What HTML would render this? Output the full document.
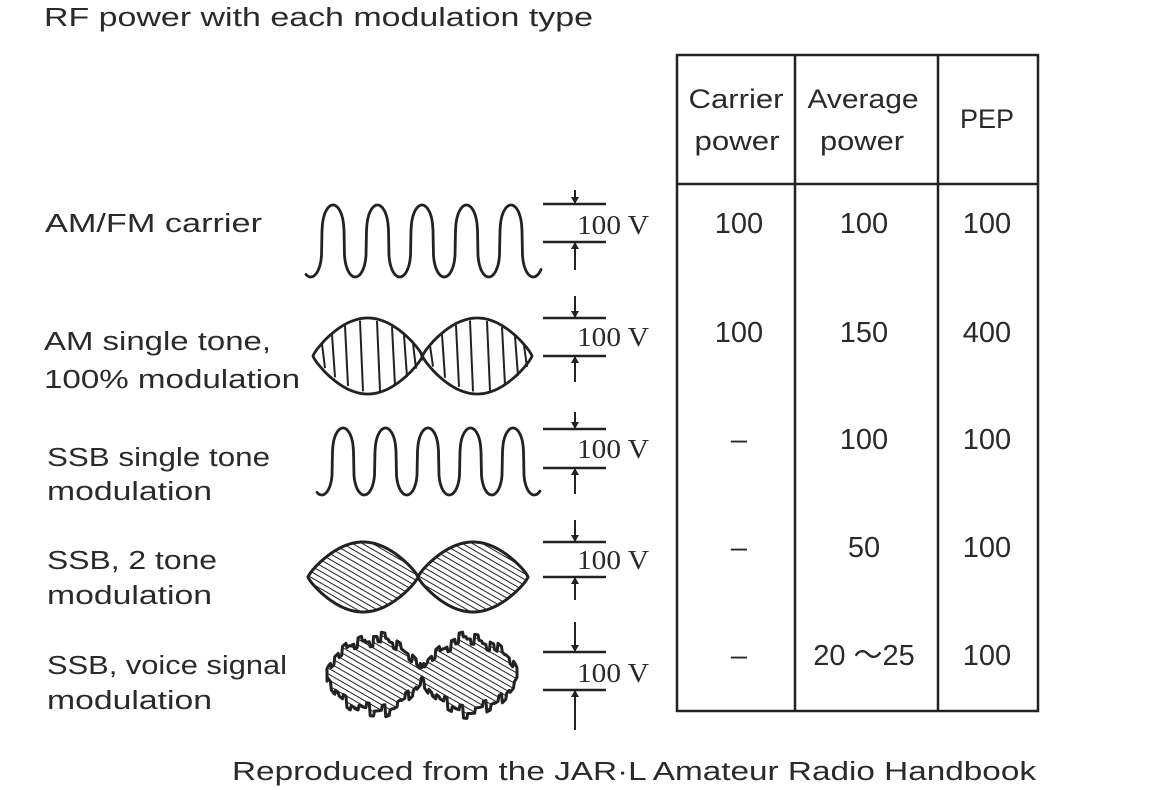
<!DOCTYPE html>
<html><head><meta charset="utf-8"><style>
html,body{margin:0;padding:0;background:#fff;}
svg{display:block}
text{font-family:"Liberation Sans",sans-serif;fill:#2a2a2a;}
.s{font-family:"Liberation Serif",serif;}
</style></head><body>
<svg id="s" width="1152" height="790" viewBox="0 0 1152 790" xmlns="http://www.w3.org/2000/svg">
<defs>
<pattern id="h" width="5" height="5" patternUnits="userSpaceOnUse" patternTransform="rotate(-60)">
<line x1="0" y1="0" x2="0" y2="5" stroke="#222" stroke-width="2"/>
</pattern>
</defs>
<g font-size="25.5">
<text x="44" y="26" textLength="549" lengthAdjust="spacingAndGlyphs">RF power with each modulation type</text>
<text x="45" y="232" textLength="217" lengthAdjust="spacingAndGlyphs">AM/FM carrier</text>
<text x="44" y="350" textLength="227" lengthAdjust="spacingAndGlyphs">AM single tone,</text>
<text x="44" y="388" textLength="256" lengthAdjust="spacingAndGlyphs">100% modulation</text>
<text x="47" y="466" textLength="223" lengthAdjust="spacingAndGlyphs">SSB single tone</text>
<text x="47" y="500" textLength="165" lengthAdjust="spacingAndGlyphs">modulation</text>
<text x="47" y="569" textLength="170" lengthAdjust="spacingAndGlyphs">SSB, 2 tone</text>
<text x="47" y="604" textLength="165" lengthAdjust="spacingAndGlyphs">modulation</text>
<text x="47" y="674" textLength="240" lengthAdjust="spacingAndGlyphs">SSB, voice signal</text>
<text x="47" y="709" textLength="165" lengthAdjust="spacingAndGlyphs">modulation</text>
<text x="232" y="780" textLength="804" lengthAdjust="spacingAndGlyphs">Reproduced from the JAR·L Amateur Radio Handbook</text>
</g>
<g stroke="#222" stroke-width="2.5" fill="none">
<rect x="677" y="55" width="361" height="656"/>
<line x1="795" y1="55" x2="795" y2="711"/>
<line x1="938" y1="55" x2="938" y2="711"/>
<line x1="677" y1="184" x2="1038" y2="184"/>
</g>
<g font-size="27" text-anchor="middle">
<text x="736" y="108" textLength="95" lengthAdjust="spacingAndGlyphs">Carrier</text>
<text x="737" y="150" textLength="85" lengthAdjust="spacingAndGlyphs">power</text>
<text x="863" y="108" textLength="111" lengthAdjust="spacingAndGlyphs">Average</text>
<text x="862" y="150" textLength="84" lengthAdjust="spacingAndGlyphs">power</text>
<text x="987" y="128" textLength="54" lengthAdjust="spacingAndGlyphs">PEP</text>
</g>
<g font-size="29" text-anchor="middle">
<text x="739" y="233">100</text><text x="864" y="233">100</text><text x="987" y="233">100</text>
<text x="739" y="342">100</text><text x="864" y="342">150</text><text x="987" y="342">400</text>
<text x="739" y="449">–</text><text x="864" y="449">100</text><text x="987" y="449">100</text>
<text x="739" y="557">–</text><text x="864" y="557">50</text><text x="987" y="557">100</text>
<text x="739" y="665">–</text><text x="864" y="665">20 ～25</text><text x="987" y="665">100</text>
</g>
<g id="w"></g>
</svg>
<script>
var g=document.getElementById('w'),NS='http://www.w3.org/2000/svg';
function el(t,a){var e=document.createElementNS(NS,t);for(var k in a)e.setAttribute(k,a[k]);g.appendChild(e);return e;}
function carrier(x0,x1,p0,top,bot){
 var per=(p0[1]-p0[0]),d='';var mid=(top+bot)/2,A=(bot-top)/2;
 for(var x=x0;x<=x1;x+=0.5){var ph=(x-p0[0])/per*2*Math.PI;var s=Math.cos(ph);var v=Math.sign(s)*Math.pow(Math.abs(s),0.3);
 var y=mid-A*v; d+=(d?'L':'M')+x.toFixed(1)+' '+y.toFixed(1);}
 el('path',{d:d,fill:'none',stroke:'#222','stroke-width':2.8,'stroke-linecap':'round','stroke-linejoin':'round'});
}
carrier(306,541,[333,377.5],205,277);
carrier(317,540,[343,385.5],428,495);
function ruler(top,bot,v0,v1,ty){
 el('line',{x1:543,y1:top,x2:606,y2:top,stroke:'#222','stroke-width':2.5});
 el('line',{x1:543,y1:bot,x2:606,y2:bot,stroke:'#222','stroke-width':2.5});
 el('line',{x1:575,y1:v0,x2:575,y2:top,stroke:'#222','stroke-width':2});
 el('line',{x1:575,y1:bot,x2:575,y2:v1,stroke:'#222','stroke-width':2});
 el('path',{d:'M571 '+(top-7)+'L579 '+(top-7)+'L575 '+top+'Z',fill:'#222'});
 el('path',{d:'M571 '+(bot+7)+'L579 '+(bot+7)+'L575 '+bot+'Z',fill:'#222'});
 var t=el('text',{x:577,y:ty,'font-size':27,'class':'s',textLength:72,lengthAdjust:'spacingAndGlyphs'});t.textContent='100 V';
}
ruler(204,242,190,270,234);
ruler(318,356,296,382,346);
ruler(429,468,412,494,458);
ruler(542,577,520,600,569);
ruler(652,690,622,730,682);
function env(x0,x1,cy,A,rough){
 var n=220,up=[],dn=[],w=(x1-x0)/2;
 for(var i=0;i<=n;i++){var x=x0+(x1-x0)*i/n;var t=(x-x0)/w*Math.PI;var base=Math.pow(Math.abs(Math.sin(t)),0.8);var a=A*base;
  var b=a;
  if(rough){var e=0.12+0.88*Math.pow(Math.abs(Math.sin(t)),0.75);
   var st=Math.floor(i/9);a=A*e*(1+0.14*((st*7)%5-2)/2)+((i%9)<5?2.5:-2.5);
   var st2=Math.floor((i+4)/9);b=A*e*(1+0.14*((st2*3)%5-2)/2)+(((i+4)%9)<5?2.5:-2.5);
   if(a<2)a=2;if(b<2)b=2;}
  up.push([x,cy-a]);dn.push([x,cy+b]);}
 var d='M'+up.map(function(p){return p[0].toFixed(1)+' '+p[1].toFixed(1)}).join('L');
 d+='L'+dn.reverse().map(function(p){return p[0].toFixed(1)+' '+p[1].toFixed(1)}).join('L')+'Z';
 return d;
}
var am=env(313,532,356,38,false);
el('path',{d:am,fill:'none',stroke:'#222','stroke-width':2.8});
(function(){var d='';var xs=[322,332,345,360,377,392,404,413,420];
 var xs2=[430,442,456,470,487,502,515,524];
 function a(x){return 38*Math.pow(Math.abs(Math.sin((x-313)/109.5*Math.PI)),0.8);}
 xs.concat(xs2).forEach(function(x){var h=a(x)*0.95;d+='M'+x+' '+(356-h)+'L'+(x+3)+' '+(356+h);});
 el('path',{d:d,stroke:'#222','stroke-width':2,fill:'none'});})();
var s2=env(308,528,577,35,false);
el('path',{d:s2,fill:'url(#h)',stroke:'#222','stroke-width':3});
var v=env(327,517,675,36,true);
el('path',{d:v,fill:'url(#h)',stroke:'#222','stroke-width':3,'stroke-linejoin':'round'});
</script>
</body></html>
